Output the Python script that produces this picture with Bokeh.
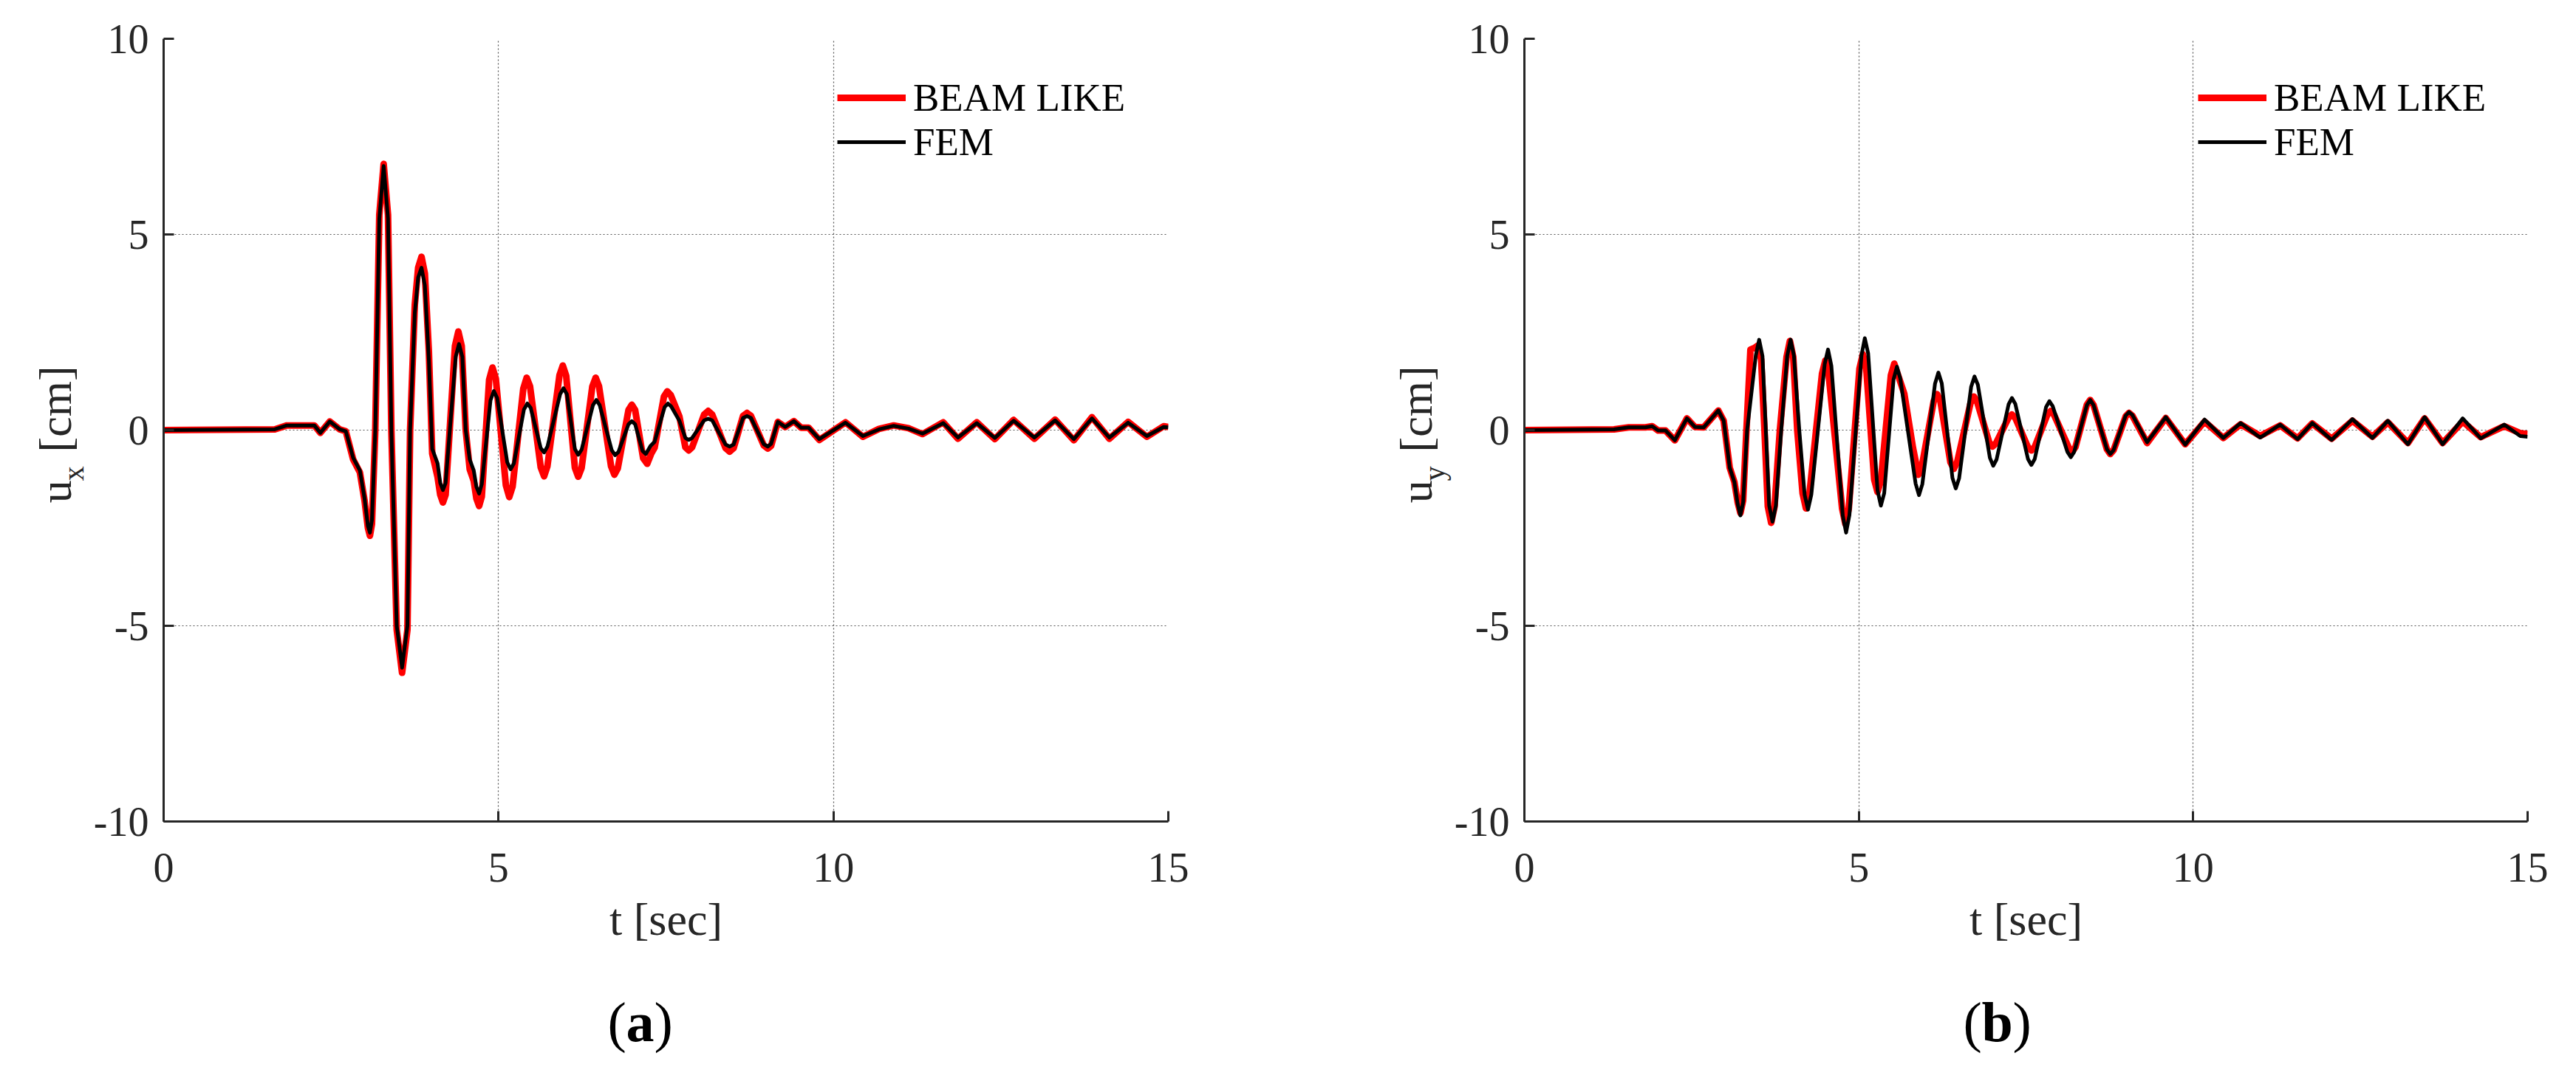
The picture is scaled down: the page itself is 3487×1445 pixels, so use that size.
import math
from bokeh.plotting import figure
from bokeh.layouts import row, column
from bokeh.models import Range1d, FixedTicker, Label, Legend, LegendItem
from bokeh.embed import file_html
from bokeh.resources import INLINE

# ---------------- data ----------------
x_ticks = [0, 5, 10, 15]
y_ticks = [-10, -5, 0, 5, 10]
series_names = ["BEAM LIKE", "FEM"]

# panel (a): u_x  -- (t [sec], u [cm]) pairs
a_fem = [(0, 0), (1.66, 0.02), (1.84, 0.12), (2.25, 0.12), (2.34, -0.07), (2.48, 0.22), (2.63, 0.02),
         (2.72, -0.03), (2.83, -0.71), (2.93, -1.03), (3.00, -1.75), (3.05, -2.45), (3.08, -2.62),
         (3.11, -2.30), (3.16, 0.0), (3.22, 5.4), (3.285, 6.75), (3.35, 5.4), (3.40, 0.0), (3.48, -5.0),
         (3.56, -6.07), (3.64, -5.0), (3.68, 0.0), (3.75, 3.0), (3.80, 3.9), (3.85, 4.15), (3.90, 3.7),
         (3.96, 1.79), (4.01, -0.48), (4.09, -0.85), (4.13, -1.35), (4.17, -1.53), (4.21, -1.35),
         (4.36, 1.87), (4.41, 2.20), (4.46, 1.87), (4.51, 0.0), (4.57, -0.75), (4.63, -1.03),
         (4.67, -1.45), (4.71, -1.62), (4.75, -1.38), (4.88, 0.76), (4.93, 1.00), (4.98, 0.82),
         (5.13, -0.82), (5.18, -1.00), (5.23, -0.85), (5.38, 0.53), (5.43, 0.68), (5.48, 0.57),
         (5.63, -0.46), (5.68, -0.57), (5.73, -0.42), (5.92, 0.92), (5.97, 1.07), (6.02, 0.92),
         (6.14, -0.48), (6.19, -0.63), (6.24, -0.50), (6.41, 0.64), (6.46, 0.77), (6.51, 0.64),
         (6.69, -0.51), (6.74, -0.64), (6.79, -0.56), (6.94, 0.15), (6.99, 0.23), (7.04, 0.15),
         (7.15, -0.53), (7.20, -0.61), (7.27, -0.40), (7.33, -0.30), (7.48, 0.59), (7.53, 0.68),
         (7.58, 0.60), (7.70, 0.24), (7.79, -0.20), (7.84, -0.25), (7.89, -0.20), (8.07, 0.25),
         (8.13, 0.29), (8.19, 0.25), (8.39, -0.37), (8.45, -0.42), (8.51, -0.37), (8.65, 0.31),
         (8.71, 0.36), (8.77, 0.31), (8.96, -0.36), (9.02, -0.42), (9.07, -0.35), (9.17, 0.21),
         (9.28, 0.08), (9.41, 0.23), (9.52, 0.06), (9.63, 0.06), (9.79, -0.23), (10.18, 0.19),
         (10.44, -0.15), (10.68, 0.02), (10.90, 0.11), (11.12, 0.04), (11.33, -0.09), (11.64, 0.18),
         (11.86, -0.19), (12.14, 0.18), (12.41, -0.20), (12.69, 0.24), (13.00, -0.19), (13.31, 0.25),
         (13.59, -0.23), (13.86, 0.30), (14.12, -0.19), (14.40, 0.19), (14.68, -0.15), (14.93, 0.08),
         (15.0, 0.07)]

a_beam = [(0, 0), (1.66, 0.02), (1.84, 0.12), (2.25, 0.12), (2.34, -0.07), (2.48, 0.22), (2.63, 0.02),
          (2.72, -0.03), (2.83, -0.75), (2.93, -1.08), (3.00, -1.80), (3.05, -2.50), (3.08, -2.70),
          (3.11, -2.40), (3.16, 0.0), (3.22, 5.5), (3.285, 6.80), (3.35, 5.5), (3.40, 0.0), (3.48, -5.1),
          (3.56, -6.20), (3.64, -5.1), (3.68, 0.0), (3.75, 3.2), (3.80, 4.15), (3.85, 4.43), (3.90, 4.0),
          (3.96, 2.00), (4.01, -0.60), (4.09, -1.20), (4.13, -1.65), (4.17, -1.85), (4.21, -1.65),
          (4.35, 2.15), (4.40, 2.52), (4.45, 2.15), (4.51, 0.0), (4.57, -1.00), (4.63, -1.30),
          (4.67, -1.75), (4.71, -1.94), (4.75, -1.70), (4.86, 1.29), (4.91, 1.60), (4.96, 1.31),
          (5.11, -1.41), (5.16, -1.71), (5.21, -1.44), (5.37, 1.06), (5.42, 1.34), (5.47, 1.12),
          (5.63, -0.95), (5.68, -1.18), (5.73, -0.92), (5.91, 1.40), (5.96, 1.65), (6.01, 1.39),
          (6.14, -0.96), (6.19, -1.19), (6.24, -0.97), (6.40, 1.11), (6.45, 1.34), (6.50, 1.12),
          (6.68, -0.92), (6.73, -1.14), (6.78, -0.98), (6.94, 0.51), (6.99, 0.65), (7.04, 0.51),
          (7.16, -0.72), (7.22, -0.86), (7.28, -0.60), (7.33, -0.45), (7.47, 0.86), (7.52, 0.99),
          (7.57, 0.90), (7.70, 0.35), (7.79, -0.44), (7.84, -0.52), (7.89, -0.44), (8.07, 0.40),
          (8.13, 0.49), (8.19, 0.40), (8.39, -0.46), (8.45, -0.55), (8.51, -0.46), (8.65, 0.36),
          (8.71, 0.44), (8.77, 0.36), (8.96, -0.39), (9.02, -0.47), (9.07, -0.40), (9.17, 0.21),
          (9.28, 0.08), (9.41, 0.23), (9.52, 0.06), (9.63, 0.06), (9.79, -0.25), (10.18, 0.20),
          (10.44, -0.17), (10.68, 0.03), (10.90, 0.12), (11.12, 0.05), (11.33, -0.10), (11.64, 0.20),
          (11.86, -0.22), (12.14, 0.20), (12.41, -0.23), (12.69, 0.26), (13.00, -0.22), (13.31, 0.27),
          (13.59, -0.26), (13.86, 0.33), (14.12, -0.22), (14.40, 0.21), (14.68, -0.17), (14.93, 0.10),
          (15.0, 0.08)]

# panel (b): u_y
b_fem = [(0, 0), (1.34, 0.02), (1.56, 0.07), (1.81, 0.07), (1.91, 0.10), (2.00, -0.01), (2.11, -0.01),
         (2.25, -0.26), (2.43, 0.30), (2.55, 0.08), (2.68, 0.07), (2.90, 0.50), (2.98, 0.24),
         (3.07, -0.96), (3.14, -1.33), (3.19, -1.90), (3.23, -2.18), (3.27, -1.85), (3.33, 0.0),
         (3.46, 1.91), (3.51, 2.31), (3.56, 1.89), (3.61, 0.0), (3.66, -1.93), (3.71, -2.34),
         (3.76, -1.93), (3.84, 0.0), (3.93, 1.90), (3.98, 2.31), (4.03, 1.90), (4.11, 0.0),
         (4.19, -1.65), (4.24, -2.03), (4.29, -1.65), (4.49, 1.69), (4.54, 2.06), (4.59, 1.64),
         (4.76, -2.18), (4.81, -2.62), (4.86, -2.17), (5.04, 1.91), (5.09, 2.35), (5.14, 1.96),
         (5.28, -1.54), (5.33, -1.93), (5.38, -1.61), (5.52, 1.30), (5.57, 1.62), (5.62, 1.32),
         (5.85, -1.37), (5.90, -1.66), (5.95, -1.38), (6.14, 1.19), (6.19, 1.47), (6.24, 1.20),
         (6.40, -1.22), (6.45, -1.49), (6.50, -1.23), (6.68, 1.11), (6.73, 1.37), (6.78, 1.16),
         (6.96, -0.71), (7.01, -0.91), (7.06, -0.75), (7.24, 0.66), (7.29, 0.82), (7.34, 0.67),
         (7.53, -0.74), (7.58, -0.89), (7.63, -0.74), (7.80, 0.59), (7.85, 0.74), (7.90, 0.61),
         (8.12, -0.56), (8.17, -0.69), (8.22, -0.56), (8.41, 0.64), (8.46, 0.77), (8.51, 0.64),
         (8.71, -0.49), (8.76, -0.61), (8.81, -0.51), (8.99, 0.37), (9.04, 0.46), (9.09, 0.39),
         (9.31, -0.31), (9.59, 0.33), (9.88, -0.37), (10.17, 0.27), (10.45, -0.20), (10.71, 0.18),
         (11.00, -0.19), (11.30, 0.14), (11.56, -0.23), (11.78, 0.18), (12.07, -0.25), (12.38, 0.28),
         (12.68, -0.20), (12.91, 0.24), (13.21, -0.36), (13.46, 0.33), (13.73, -0.36), (14.03, 0.30),
         (14.30, -0.21), (14.65, 0.14), (14.89, -0.15), (15.0, -0.17)]

b_beam = [(0, 0), (1.34, 0.02), (1.56, 0.07), (1.81, 0.07), (1.91, 0.10), (2.00, -0.01), (2.11, -0.01),
          (2.25, -0.26), (2.43, 0.30), (2.55, 0.08), (2.68, 0.07), (2.90, 0.50), (2.98, 0.24),
          (3.07, -0.96), (3.14, -1.33), (3.19, -1.85), (3.23, -2.12), (3.27, -1.80), (3.32, 0.0),
          (3.38, 2.06), (3.44, 2.10), (3.49, 2.16), (3.54, 1.80), (3.59, 0.0), (3.64, -1.95),
          (3.69, -2.37), (3.74, -1.96), (3.82, 0.0), (3.92, 1.87), (3.97, 2.28), (4.02, 1.87),
          (4.08, 0.0), (4.16, -1.62), (4.21, -2.00), (4.26, -1.66), (4.45, 1.44), (4.50, 1.78),
          (4.55, 1.41), (4.75, -2.00), (4.80, -2.40), (4.85, -2.01), (5.01, 1.57), (5.06, 1.94),
          (5.11, 1.62), (5.23, -1.26), (5.28, -1.58), (5.33, -1.29), (5.48, 1.40), (5.53, 1.70),
          (5.68, 0.93), (5.81, -0.45), (5.89, -1.14), (5.94, -0.95), (6.12, 0.74), (6.17, 0.92),
          (6.22, 0.74), (6.37, -0.82), (6.42, -0.99), (6.47, -0.82), (6.67, 0.69), (6.72, 0.86),
          (6.77, 0.72), (6.95, -0.31), (7.00, -0.42), (7.05, -0.34), (7.24, 0.32), (7.29, 0.40),
          (7.34, 0.31), (7.53, -0.44), (7.58, -0.52), (7.63, -0.43), (7.82, 0.40), (7.87, 0.49),
          (7.92, 0.39), (8.14, -0.45), (8.19, -0.55), (8.24, -0.43), (8.41, 0.65), (8.46, 0.77),
          (8.51, 0.64), (8.71, -0.49), (8.76, -0.61), (8.81, -0.51), (8.99, 0.35), (9.04, 0.44),
          (9.09, 0.37), (9.31, -0.33), (9.59, 0.31), (9.88, -0.36), (10.17, 0.22), (10.45, -0.20),
          (10.71, 0.15), (11.00, -0.15), (11.30, 0.12), (11.56, -0.21), (11.78, 0.17), (12.07, -0.22),
          (12.38, 0.24), (12.68, -0.17), (12.91, 0.20), (13.21, -0.33), (13.46, 0.30), (13.73, -0.33),
          (14.03, 0.22), (14.30, -0.18), (14.65, 0.10), (14.89, -0.08), (15.0, -0.10)]

# ---------------- styling / layout ----------------
FONT = "Liberation Serif"
AX = "#262626"
FRAME_H = 1060
TOP = 52
BOTTOM = 230
ROW_H = TOP + FRAME_H + BOTTOM      # 1342
CAP_H = 1429 - ROW_H                # 87
YLAB_SHIFT = 112                    # empirical correction for rotated text placement
CAP_BASE = 46
AXIS_BORDER = 97


def blank(width, height):
    f = figure(width=width, height=height, x_range=Range1d(0, width), y_range=Range1d(0, height),
               min_border=0, x_axis_location=None, y_axis_location=None,
               output_backend="svg", toolbar_location=None)
    f.grid.visible = False
    f.outline_line_color = None
    f.background_fill_color = "white"
    f.border_fill_color = "white"
    return f


def ylabel_fig(width, xb, sub):
    f = blank(width, ROW_H)
    top = 8 + ROW_H - YLAB_SHIFT
    common = dict(angle=math.pi / 2, text_font=FONT, text_color=AX,
                  text_align="left", text_baseline="alphabetic")
    f.add_layout(Label(x=xb, y=top - 692, text="u", text_font_size="62px", **common))
    f.add_layout(Label(x=xb + 25, y=top - 654, text=sub, text_font_size="40px", **common))
    f.add_layout(Label(x=xb, y=top - 605, text="[cm]", text_font_size="62px", **common))
    return f


def panel(beam, fem, frame_w, left, right):
    p = figure(frame_width=frame_w, frame_height=FRAME_H,
               x_range=Range1d(0, 15), y_range=Range1d(-10, 10),
               min_border_left=left, min_border_right=right,
               min_border_top=TOP, min_border_bottom=BOTTOM,
               output_backend="svg", toolbar_location=None)
    p.outline_line_color = None
    p.background_fill_color = "white"
    p.border_fill_color = "white"

    for ax, ticks in ((p.xaxis, x_ticks), (p.yaxis, y_ticks)):
        ax.ticker = FixedTicker(ticks=ticks)
        ax.major_label_overrides = {t: str(t) for t in ticks}
        ax.axis_line_color = AX
        ax.axis_line_width = 3
        ax.major_tick_line_color = AX
        ax.major_tick_line_width = 3
        ax.major_tick_in = 14
        ax.major_tick_out = 0
        ax.minor_tick_line_color = None
        ax.major_label_text_font = FONT
        ax.major_label_text_font_size = "56px"
        ax.major_label_text_color = AX
    p.xaxis.major_label_standoff = 43
    p.yaxis.major_label_standoff = 20
    p.xaxis.axis_label = "t [sec]"
    p.xaxis.axis_label_text_font = FONT
    p.xaxis.axis_label_text_font_size = "62px"
    p.xaxis.axis_label_text_font_style = "normal"
    p.xaxis.axis_label_text_color = AX
    p.xaxis.axis_label_standoff = 14

    p.xgrid.ticker = FixedTicker(ticks=x_ticks)
    p.ygrid.ticker = FixedTicker(ticks=y_ticks)
    for g in (p.xgrid, p.ygrid):
        g.grid_line_color = "#555555"
        g.grid_line_width = 1.2
        g.grid_line_dash = "2 3"

    r_b = p.line([q[0] for q in beam], [q[1] for q in beam],
                 line_color="#ff0000", line_width=9, line_join="round")
    r_f = p.line([q[0] for q in fem], [q[1] for q in fem],
                 line_color="black", line_width=5, line_join="round")

    leg = Legend(items=[LegendItem(label=series_names[0], renderers=[r_b]),
                        LegendItem(label=series_names[1], renderers=[r_f])],
                 location=(912, 890), orientation="vertical")
    leg.border_line_color = None
    leg.background_fill_alpha = 0
    leg.padding = 0
    leg.margin = 0
    leg.spacing = 0
    leg.glyph_width = 93
    leg.glyph_height = 56
    leg.label_height = 56
    leg.label_standoff = 10
    leg.label_text_font = FONT
    leg.label_text_font_size = "53px"
    leg.label_text_color = "black"
    p.add_layout(leg)
    return p


def caption_fig():
    f = blank(3471, CAP_H)
    cc = dict(text_font=FONT, text_color="black", text_font_size="76px",
              text_align="left", text_baseline="alphabetic")
    for x0, letter, w in ((822, "a", 38), (2657, "b", 42)):
        f.add_layout(Label(x=x0, y=CAP_BASE, text="(", **cc))
        f.add_layout(Label(x=x0 + 25, y=CAP_BASE, text=letter, text_font_style="bold", **cc))
        f.add_layout(Label(x=x0 + 25 + w, y=CAP_BASE, text=")", **cc))
    return f


# panel a: frame left at page x 220, panel b: frame left at page x 2061
ylab_a = ylabel_fig(220 - AXIS_BORDER, 74, "x")
pa = panel(a_beam, a_fem, 1360, AXIS_BORDER, 160)
ylab_b = ylabel_fig(2061 - 1740 - AXIS_BORDER, 175, "y")
pb = panel(b_beam, b_fem, 1358, AXIS_BORDER, 52)

layout = column(row(ylab_a, pa, ylab_b, pb), caption_fig())
open("out.html", "w").write(file_html(layout, INLINE))
